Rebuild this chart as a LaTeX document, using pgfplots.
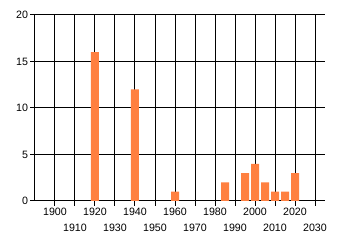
\documentclass[border=0pt]{standalone}
\usepackage{fontspec}
\setmainfont{Liberation Sans}
\usepackage{pgfplots}
\pgfplotsset{compat=1.18}
\definecolor{barorange}{RGB}{255,128,64}
\begin{document}
\begin{tikzpicture}
\path[use as bounding box] (0,0) rectangle (255pt,183.75pt);
\begin{axis}[
 at={(26.25pt,33pt)}, anchor=south west,
 scale only axis, width=217.5pt, height=139.5pt,
 xmin=1890, xmax=2035, ymin=0, ymax=20,
 axis lines=left, axis line style={-, black, line width=0.75pt},
 xtick={1900,1920,...,2020},
 extra x ticks={1910,1930,...,2030},
 extra x tick style={grid=major, tick label style={yshift=-12pt}},
 ytick={0,5,...,20},
 grid=major, major grid style={black, line width=0.75pt},
 tick align=outside, major tick length=3.5pt, tick style={black, line width=0.75pt},
 /pgf/number format/1000 sep={}, /pgf/number format/assume math mode=true,
 tick label style={font=\fontsize{8}{9.5}\selectfont},
 xticklabel style={inner sep=1.5pt},
 yticklabel style={inner sep=1.5pt},
]
\addplot[ybar, bar width=4, fill=barorange, draw=none] coordinates {
 (1920,16) (1940,12) (1960,1) (1985,2) (1995,3) (2000,4) (2005,2) (2010,1) (2015,1) (2020,3)
};
\end{axis}
\end{tikzpicture}
\end{document}
